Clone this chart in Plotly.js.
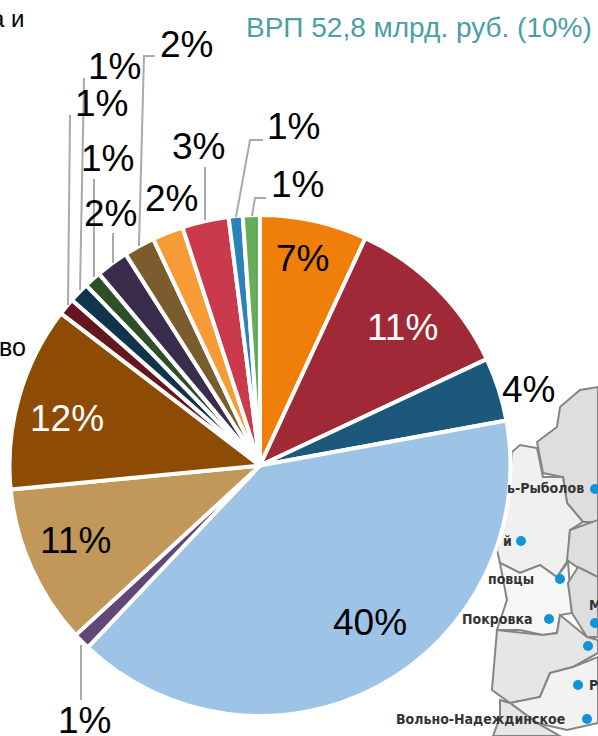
<!DOCTYPE html>
<html><head><meta charset="utf-8">
<script src="https://cdn.plot.ly/plotly-3.0.1.min.js"></script>
<style>html,body{margin:0;padding:0;background:#fff}#c{width:598px;height:736px}</style>
</head><body><div id="c"></div>
<script>
const sliceValues=[6.9,11.1,4.1,39.9,1.1,10.3,11.9,1.1,1.3,1.1,2.1,2.0,2.0,3.0,0.9,1.1];
const sliceLabels=['7%','11%','4%','40%','1%','11%','12%','1%','1%','1%','2%','2%','2%','3%','1%','1%'];
const sliceColors=['#f07f09','#9f2936','#1b587c','#9dc3e6','#604878','#c19859','#8e4b03','#66161f','#10344b','#2f4f29','#3a2c4b','#7a5c2d','#f79b36','#cb394c','#2a82b8','#68ad5b'];
const W=598,H=736;
const textPos=[[302,258],[402,327],[528,389],[370,622],[84,720],[75,540],[67,418],[101,103],[114,66],[107,158],[110,213],[186,45],[172,198],[198,147],[293,127],[297,185]];
const textCol=['#000','#fff','#000','#000','#000','#000','#fff','#000','#000','#000','#000','#000','#000','#000','#000','#000'];
const leaders=[[[81,645],[81,700]],[[68,305],[70,115]],[[80,290],[84,78]],[[94,277],[94,179]],[[113,263],[113,233]],[[139,246],[144,56],[155,56]],[[205,220],[205,167]],[[236,217],[250,140],[263,140]],[[252,216],[255,198],[266,198]]];
const mapRegions=[
 {f:'#dedede',p:[[537,442],[557,427],[560,407],[580,390],[598,387],[598,522],[583,522],[567,503],[563,477],[543,473]]},
 {f:'#f0f0f0',p:[[512,452],[520,445],[537,448],[543,477],[563,477],[567,503],[583,522],[570,530],[568,560],[557,577],[540,565],[520,573],[500,563],[497,550],[508,503]]},
 {f:'#dedede',p:[[570,530],[598,520],[598,577],[577,567],[567,560]]},
 {f:'#f6f6f6',p:[[500,563],[520,573],[540,565],[557,577],[568,562],[572,613],[560,615],[557,633],[543,635],[520,630],[497,630],[507,600]]},
 {f:'#dedede',p:[[568,583],[578,567],[598,577],[598,637],[587,637],[572,613]]},
 {f:'#e6e6e6',p:[[497,630],[543,635],[557,633],[560,615],[587,637],[598,640],[598,653],[573,667],[550,673],[540,697],[510,703],[492,690]]},
 {f:'#f2f2f2',p:[[550,673],[573,667],[598,657],[598,723],[567,730],[537,723],[510,703],[540,697]]},
 {f:'#e6e6e6',p:[[500,700],[510,703],[537,723],[560,736],[493,736],[500,717]]}
];
const mapDots=[[595,489],[521,541],[560,579],[549,619],[595,623],[588,646],[578,685],[587,719]];
const mapNames=[['ь-Рыболов',586,488,'right'],['й',514,541,'right'],['повцы',536,579,'right'],['Покровка',534,619,'right'],['М',587,605,'left'],['Р',587,685,'left'],['Вольно-Надеждинское',567,719,'right']];
const sideTexts=[['а и',26,18,'right',24,'#000'],['во',28,347,'right',25,'#000'],['ВРП 52,8 млрд. руб. (10%)',594,27,'right',28,'#4a9ea8']];

const nx=x=>x/W, ny=y=>1-y/H;
const path=(pts,close)=>pts.map((q,i)=>(i?'L':'M')+nx(q[0]).toFixed(4)+','+ny(q[1]).toFixed(4)).join(' ')+(close?' Z':'');
const shapes=[];
mapRegions.forEach(r=>shapes.push({type:'path',xref:'paper',yref:'paper',layer:'below',path:path(r.p,true),fillcolor:r.f,line:{color:'#858585',width:2}}));
mapDots.forEach(d=>shapes.push({type:'circle',xref:'paper',yref:'paper',layer:'below',x0:nx(d[0]-5),x1:nx(d[0]+5),y0:ny(d[1]+5),y1:ny(d[1]-5),fillcolor:'#0f94d8',line:{width:0}}));
leaders.forEach(l=>shapes.push({type:'path',xref:'paper',yref:'paper',layer:'above',path:path(l,false),line:{color:'#aaaaaa',width:2}}));
const annotations=[];
sliceLabels.forEach((t,i)=>annotations.push({text:t,xref:'paper',yref:'paper',x:nx(textPos[i][0]),y:ny(textPos[i][1]),xanchor:'center',yanchor:'middle',showarrow:false,font:{family:'Liberation Sans',size:37,color:textCol[i]}}));
mapNames.forEach(m=>annotations.push({text:'<b>'+m[0]+'</b>',xref:'paper',yref:'paper',x:nx(m[1]),y:ny(m[2]),xanchor:m[3],yanchor:'middle',showarrow:false,font:{family:'"DejaVu Sans Condensed","Liberation Sans",sans-serif',size:14,color:'#333'}}));
sideTexts.forEach(s=>annotations.push({text:s[0],xref:'paper',yref:'paper',x:nx(s[1]),y:ny(s[2]),xanchor:s[3],yanchor:'middle',showarrow:false,font:{family:'Liberation Sans',size:s[4],color:s[5]}}));
Plotly.newPlot('c',[{type:'pie',values:sliceValues,labels:sliceLabels.map((t,i)=>i+':'+t),sort:false,direction:'clockwise',rotation:0,textinfo:'none',hoverinfo:'none',
 marker:{colors:sliceColors,line:{color:'#fff',width:4}},domain:{x:[9.5/W,510.5/W],y:[1-716/H,1-215/H]}}],
 {width:W,height:H,margin:{l:0,r:0,t:0,b:0},paper_bgcolor:'#fff',showlegend:false,shapes,annotations},{displayModeBar:false,staticPlot:true});
</script></body></html>
